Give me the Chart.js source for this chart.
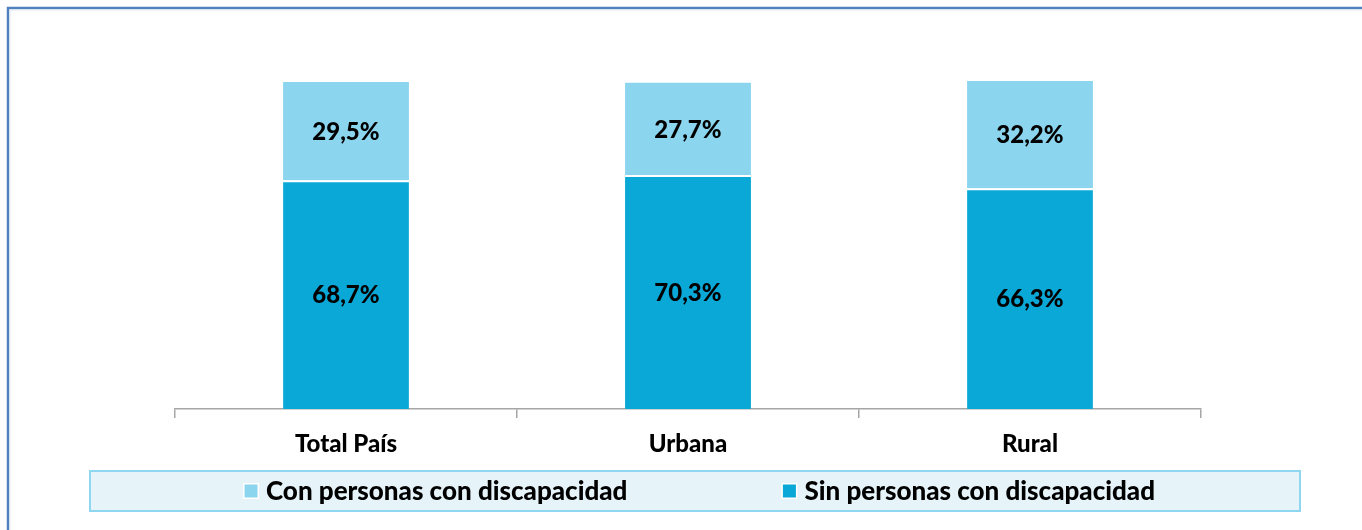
<!DOCTYPE html>
<html>
<head>
<meta charset="utf-8">
<script src="https://cdn.jsdelivr.net/npm/chart.js@4.4.1/dist/chart.umd.min.js"></script>
<style>
  html, body { margin: 0; padding: 0; background: #ffffff; }
  #wrap { width: 1362px; height: 530px; }
</style>
</head>
<body>
<div id="wrap"><canvas id="c" width="1362" height="530"></canvas></div>
<script>
const categories = ['Total País', 'Urbana', 'Rural'];
const sinValues = [68.7, 70.3, 66.3];
const conValues = [29.5, 27.7, 32.2];
const seriesNames = ['Sin personas con discapacidad', 'Con personas con discapacidad'];
const yTicks = [0, 100];

const DARK = '#0aa8d7';
const LIGHT = '#8cd5ee';
const FONT = 'Lato, "Open Sans", sans-serif';
const WEIGHT = '900';

const framePlugin = {
  id: 'frame',
  beforeDraw(chart) {
    const ctx = chart.ctx;
    ctx.save();
    ctx.strokeStyle = '#4f81bd';
    ctx.lineWidth = 2.5;
    ctx.strokeRect(8, 8, 3000, 3000);
    ctx.strokeStyle = '#dbe9f6';
    ctx.lineWidth = 1;
    ctx.strokeRect(10, 10, 3000, 3000);
    ctx.restore();
  }
};

const labelsPlugin = {
  id: 'valueLabels',
  afterDatasetsDraw(chart) {
    const ctx = chart.ctx;
    ctx.save();
    ctx.font = WEIGHT + ' 24px ' + FONT;
    ctx.fillStyle = '#000000';
    ctx.textAlign = 'center';
    ctx.textBaseline = 'middle';
    chart.data.datasets.forEach((ds, di) => {
      const meta = chart.getDatasetMeta(di);
      meta.data.forEach((el, i) => {
        const v = ds.data[i];
        const txt = v.toFixed(1).replace('.', ',') + '%';
        ctx.fillText(txt, el.x, (el.y + el.base) / 2 + 1);
      });
    });
    ctx.restore();
  }
};

const legendBoxPlugin = {
  id: 'legendBox',
  afterDraw(chart) {
    const ctx = chart.ctx;
    ctx.save();
    ctx.fillStyle = '#e6f4fa';
    ctx.fillRect(90, 471, 1210, 40);
    ctx.strokeStyle = '#8fd6f0';
    ctx.lineWidth = 2;
    ctx.strokeRect(90, 471, 1210, 40);
    ctx.font = WEIGHT + ' 26px ' + FONT;
    ctx.textBaseline = 'middle';
    ctx.textAlign = 'left';
    const items = chart.data.datasets.map(d => ({ text: d.label, color: d.backgroundColor })).reverse();
    const box = 16, gapBox = 7, gapItem = 154;
    let total = 0;
    items.forEach((it, i) => {
      it.w = box + gapBox + ctx.measureText(it.text).width;
      total += it.w + (i > 0 ? gapItem : 0);
    });
    let x = 699 - total / 2;
    const cy = 491;
    items.forEach(it => {
      ctx.fillStyle = '#ffffff';
      ctx.fillRect(x, cy - box / 2, box, box);
      ctx.fillStyle = it.color;
      ctx.fillRect(x + 1.5, cy - box / 2 + 1.5, box - 3, box - 3);
      ctx.fillStyle = '#000000';
      ctx.fillText(it.text, x + box + gapBox, cy + 1);
      x += it.w + gapItem;
    });
    ctx.restore();
  }
};

new Chart(document.getElementById('c'), {
  type: 'bar',
  data: {
    labels: categories,
    datasets: [
      {
        label: seriesNames[0],
        data: sinValues,
        backgroundColor: DARK,
        borderColor: '#ffffff',
        borderWidth: { top: 2, left: 0, right: 0, bottom: 0 },
        borderSkipped: false,
        categoryPercentage: 1,
        barPercentage: 0.368
      },
      {
        label: seriesNames[1],
        data: conValues,
        backgroundColor: LIGHT,
        borderColor: '#ffffff',
        borderWidth: 0,
        categoryPercentage: 1,
        barPercentage: 0.368
      }
    ]
  },
  options: {
    responsive: false,
    devicePixelRatio: 1,
    animation: false,
    layout: { padding: { top: 76, left: 175, right: 161, bottom: 71 } },
    plugins: {
      legend: { display: false },
      tooltip: { enabled: false },
      title: { display: false }
    },
    scales: {
      x: {
        stacked: true,
        grid: {
          display: true,
          offset: true,
          drawOnChartArea: false,
          drawTicks: true,
          tickLength: 9,
          color: '#a6a6a6',
          lineWidth: 1.5
        },
        border: { display: true, color: '#a6a6a6', width: 1.5 },
        ticks: {
          color: '#000000',
          font: { family: FONT, size: 24, weight: WEIGHT },
          padding: 12,
          maxRotation: 0
        },
        afterFit(scale) { scale.height = 50; }
      },
      y: {
        stacked: true,
        display: false,
        min: yTicks[0],
        max: yTicks[1]
      }
    }
  },
  plugins: [framePlugin, labelsPlugin, legendBoxPlugin]
});
</script>
</body>
</html>
